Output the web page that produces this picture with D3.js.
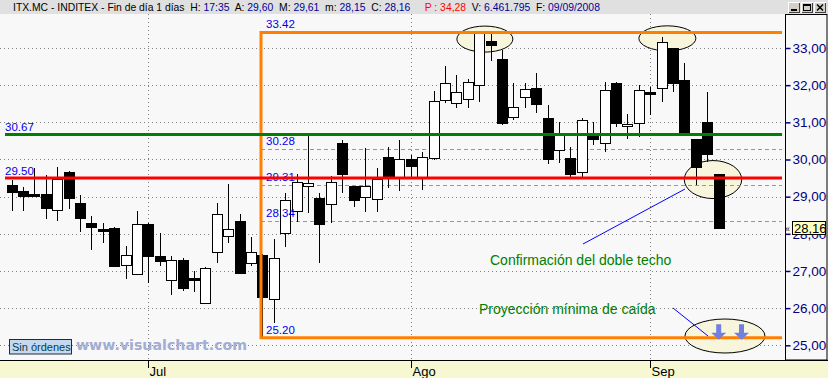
<!DOCTYPE html>
<html>
<head>
<meta charset="utf-8">
<script src="https://cdn.jsdelivr.net/npm/d3@7"></script>
<style>
body{margin:0;background:#f8f8f8;overflow:hidden}
svg{display:block;font-family:"Liberation Sans",Arial,sans-serif}
</style>
</head>
<body>
<script>
// Daily candles ITX.MC (13/06/2008 - 09/09/2008)
var dates = ["13/06","16/06","17/06","18/06","19/06","20/06","23/06","24/06","25/06","26/06","27/06","30/06",
             "01/07","02/07","03/07","04/07","07/07","08/07","09/07","10/07","11/07","14/07","15/07","16/07",
             "17/07","18/07","21/07","22/07","23/07","24/07","25/07","28/07","29/07","30/07","31/07",
             "01/08","04/08","05/08","06/08","07/08","08/08","11/08","12/08","13/08","14/08","15/08","18/08",
             "19/08","20/08","21/08","22/08","25/08","26/08","27/08","28/08","29/08",
             "01/09","02/09","03/09","04/09","05/09","08/09","09/09"];
var open  = [29.31,29.16,29.07,29.06,28.63,29.66,28.83,28.29,28.13,28.16,27.15,26.91,
             28.27,27.41,26.75,27.30,26.80,26.13,27.52,27.94,28.35,27.21,27.42,26.25,
             28.01,28.62,29.28,28.96,28.80,30.44,29.29,28.98,28.93,30.07,29.52,
             30.01,29.51,30.03,31.59,31.51,31.62,32.00,33.19,32.70,31.14,31.69,31.92,
             31.11,30.25,30.04,29.66,30.71,30.44,32.06,30.89,30.97,
             31.81,31.92,33.00,32.14,30.55,31.01,29.60];
var high  = [29.45,29.25,29.76,29.58,29.79,29.68,29.05,28.48,28.29,28.17,27.67,28.61,
             28.28,28.03,27.40,27.34,27.01,27.12,28.84,29.34,28.53,27.92,27.45,27.85,
             29.11,29.61,30.70,29.09,29.56,30.52,29.30,30.32,29.76,30.34,30.52,
             30.12,30.20,31.85,32.52,32.27,32.16,33.42,33.40,32.95,32.05,32.05,32.32,
             31.47,31.01,30.34,31.11,31.01,32.09,32.08,31.22,32.00,
             31.96,33.30,33.01,32.59,30.56,31.82,29.61];
var low   = [28.62,28.62,28.98,28.39,28.35,28.68,28.06,27.57,27.75,27.10,26.79,26.90,
             26.67,27.14,26.36,26.47,26.44,26.12,27.22,27.75,26.93,27.14,25.20,25.61,
             27.65,28.33,28.55,27.22,28.30,29.09,28.71,28.60,28.60,29.23,29.16,
             29.49,29.18,29.99,31.53,31.39,31.39,31.56,32.66,30.92,31.06,31.39,31.24,
             29.88,29.91,29.48,29.48,30.39,30.19,30.87,30.54,30.61,
             31.19,31.56,31.82,30.68,29.31,29.94,28.15];
var close = [29.13,29.03,29.04,28.70,29.47,28.97,28.43,28.17,28.10,27.14,27.43,28.26,
             27.41,27.28,27.29,26.55,26.78,27.08,28.53,28.12,26.94,27.50,26.31,27.34,
             28.91,29.39,29.36,28.27,29.39,29.62,28.90,29.29,29.47,29.49,30.01,
             29.83,30.06,31.57,32.06,31.81,32.09,33.40,33.09,30.99,31.40,31.89,31.50,
             30.02,30.65,29.60,31.06,30.56,31.86,30.99,30.95,31.86,
             31.80,33.15,32.05,30.68,29.79,30.16,28.16];

var priceTicks = [25, 26, 27, 28, 29, 30, 31, 32, 33];
var monthLabels = ["Jul", "Ago", "Sep"];
var monthStarts = ["01/07", "01/08", "01/09"];

// Drawn studies
var rangeHigh = 33.42, rangeLow = 25.20, rangeStart = "15/07";
var fibLevels = [30.28, 29.31, 28.34];
var resistance = 30.67, neckline = 29.50;

// Header info
var ticker = "ITX.MC - INDITEX - Fin de día 1 días";
var lastTime = "17:35", prevClose = "34,28", volume = "6.461.795", lastDate = "09/09/2008";

var W = 828, H = 378;
var plotRight = 783, axisX = 785.5, bottomY = 360, topY = 14;

var x = d3.scalePoint().domain(dates).range([11.5, 718.7]);
var step = x.step();
var y = d3.scaleLinear().domain([25, 33]).range([345.3, 48]);
var comma = function(v){ return d3.format(".2f")(v).replace(".", ","); };
var dot = d3.format(".2f");
var px = function(v){ return Math.round(v) + 0.5; };
var n = dates.length - 1;

var svg = d3.select("body").append("svg").attr("width", W).attr("height", H);

// backgrounds
svg.append("rect").attr("width", W).attr("height", H).attr("fill", "#f8f8f8");
svg.append("rect").attr("width", W).attr("height", topY).attr("fill", "#e0e0e0");
svg.append("rect").attr("y", bottomY).attr("width", W).attr("height", H - bottomY).attr("fill", "#f7f7d2");

// grid
svg.append("g").selectAll("line").data(priceTicks).join("line")
   .attr("x1", 0).attr("x2", plotRight)
   .attr("y1", function(d){ return px(y(d)); }).attr("y2", function(d){ return px(y(d)); })
   .attr("stroke", "#808080").attr("stroke-dasharray", "1,3");
svg.append("g").selectAll("line").data(monthStarts).join("line")
   .attr("x1", function(d){ return px(x(d)); }).attr("x2", function(d){ return px(x(d)); })
   .attr("y1", topY).attr("y2", bottomY)
   .attr("stroke", "#808080").attr("stroke-dasharray", "1,3");

// highlight ellipses
var last = dates[n];
var ellipses = [
  [(x("11/08") + x("12/08")) / 2, y(33.24), 28, 13],
  [(x("02/09") + x("03/09")) / 2, y(33.26), 28.5, 12.5],
  [(x("08/09") + x(last)) / 2, y(29.46), 28.7, 19],
  [x(last) + step * 0.55, y(25.25), 40, 17]
];
svg.append("g").selectAll("ellipse").data(ellipses).join("ellipse")
   .attr("cx", function(d){ return d[0]; }).attr("cy", function(d){ return d[1]; })
   .attr("rx", function(d){ return d[2]; }).attr("ry", function(d){ return d[3]; })
   .attr("fill", "#f7f5dc").attr("stroke", "#000").attr("stroke-width", 1);

// retracement levels
var xStart = px(x(rangeStart)) - 1.5;
svg.append("g").selectAll("line").data(fibLevels).join("line")
   .attr("x1", xStart).attr("x2", plotRight - 1)
   .attr("y1", function(d){ return px(y(d)); }).attr("y2", function(d){ return px(y(d)); })
   .attr("stroke", "#ff8000").attr("stroke-dasharray", "4,3");

// candles
var idx = d3.range(dates.length);
var cg = svg.append("g").attr("shape-rendering", "crispEdges");
cg.selectAll("line").data(idx).join("line")
  .attr("x1", function(i){ return px(x(dates[i])); }).attr("x2", function(i){ return px(x(dates[i])); })
  .attr("y1", function(i){ return Math.round(y(high[i])); }).attr("y2", function(i){ return Math.round(y(low[i])); })
  .attr("stroke", "#000");
cg.selectAll("rect").data(idx).join("rect")
  .attr("x", function(i){ return Math.round(x(dates[i])) - 5 + 0.5; })
  .attr("width", 10)
  .attr("y", function(i){ return Math.round(y(Math.max(open[i], close[i]))) + 0.5; })
  .attr("height", function(i){
     return Math.max(2, Math.round(y(Math.min(open[i], close[i]))) - Math.round(y(Math.max(open[i], close[i]))));
  })
  .attr("fill", function(i){ return close[i] > open[i] ? "#fff" : "#000"; })
  .attr("stroke", "#000");

// level labels
var labels = svg.append("g").attr("fill", "#0000ee").attr("font-size", "11.5px");
[resistance, neckline].forEach(function(v){
  labels.append("text").attr("x", 5).attr("y", y(v) - 3.5).text(dot(v));
});
fibLevels.concat([rangeHigh, rangeLow]).forEach(function(v){
  labels.append("text").attr("x", xStart + 5).attr("y", y(v) - 4).text(dot(v));
});

// range box, resistance and neckline
var lines = svg.append("g").attr("fill", "none");
lines.append("path")
  .attr("d", "M" + (plotRight - 1) + "," + y(rangeHigh) + "H" + xStart + "V" + y(rangeLow) + "H" + (plotRight - 1))
  .attr("stroke", "#ff8000").attr("stroke-width", 3);
lines.append("line").attr("x1", 5).attr("x2", plotRight - 1)
  .attr("y1", y(resistance)).attr("y2", y(resistance))
  .attr("stroke", "#008000").attr("stroke-width", 3);
lines.append("line").attr("x1", 5).attr("x2", plotRight - 1)
  .attr("y1", y(neckline)).attr("y2", y(neckline))
  .attr("stroke", "#ff0000").attr("stroke-width", 3);

// annotations
var ann = svg.append("g");
ann.append("line").attr("x1", 685).attr("y1", 189).attr("x2", 583).attr("y2", 244)
   .attr("stroke", "#0000ff");
ann.append("line").attr("x1", 673).attr("y1", 308).attr("x2", 708).attr("y2", 336)
   .attr("stroke", "#0000ff");
[x(last), x(last) + step * 2].forEach(function(cx){
  var t = y(rangeLow) - 13.5;
  ann.append("path")
     .attr("d", "M" + (cx - 2.5) + "," + t + "h5v8.5h5l-7.5,7l-7.5,-7h5z")
     .attr("fill", "#6f80e0");
});
ann.append("text").attr("x", 490).attr("y", 265).attr("fill", "#008000").attr("font-size", "14px")
   .text("Confirmación del doble techo");
ann.append("text").attr("x", 479).attr("y", 314).attr("fill", "#008000").attr("font-size", "14px")
   .text("Proyección mínima de caída");

// watermark and order box
svg.append("text").attr("x", 76).attr("y", 350)
   .attr("font-family", "DejaVu Sans").attr("font-weight", "bold").attr("font-size", "14.2px")
   .attr("fill", "#a3add3").text("www.visualchart.com");
svg.append("rect").attr("x", 9.5).attr("y", 339.5).attr("width", 62).attr("height", 14.5)
   .attr("fill", "#c6d8f0").attr("stroke", "#1c2c3c");
svg.append("text").attr("x", 12).attr("y", 351).attr("font-size", "11px").attr("fill", "#004048")
   .text("Sin órdenes");

// bottom time axis
svg.append("line").attr("x1", 0).attr("x2", W).attr("y1", bottomY + 0.5).attr("y2", bottomY + 0.5)
   .attr("stroke", "#000");
var xAxis = svg.append("g");
monthStarts.forEach(function(d, i){
  var mx = px(x(d));
  xAxis.append("line").attr("x1", mx).attr("x2", mx).attr("y1", bottomY).attr("y2", bottomY + 8)
       .attr("stroke", "#000");
  xAxis.append("text").attr("x", mx + 1).attr("y", 376).attr("font-size", "13px").attr("fill", "#000")
       .text(monthLabels[i]);
});

// right price axis
var lastY = Math.round(y(close[n]));
svg.append("rect").attr("x", axisX).attr("y", topY + 0.5).attr("width", W - axisX - 1).attr("height", bottomY - topY - 0.5)
   .attr("fill", "#f8f8f8").attr("stroke", "#000");
var yAxis = svg.append("g").attr("transform", "translate(" + axisX + ",0)")
   .call(d3.axisRight(y).tickValues(priceTicks).tickSize(5).tickPadding(2).tickFormat(comma));
yAxis.select(".domain").remove();
yAxis.selectAll("line").attr("stroke", "#000080").attr("stroke-width", 1.5);
yAxis.selectAll("text").attr("fill", "#000080").attr("font-size", "13.5px")
   .attr("font-family", "Liberation Sans, Arial, sans-serif");

// the last price tag hides most of the nearest tick label: keep only the part below it
var hidden = priceTicks.filter(function(d){ return Math.abs(y(d) - lastY) < 13; });
yAxis.selectAll(".tick").filter(function(d){ return hidden.indexOf(d) >= 0; }).select("text").remove();
svg.append("clipPath").attr("id", "underTag")
   .append("rect").attr("x", axisX).attr("y", lastY + 7).attr("width", 50).attr("height", 20);
hidden.forEach(function(d){
  svg.append("text").attr("x", axisX + 7).attr("y", y(d) + 5)
     .attr("clip-path", "url(#underTag)")
     .attr("fill", "#000080").attr("font-size", "13.5px").text(comma(d));
});

// last price marker
var lp = svg.append("g").attr("transform", "translate(0," + lastY + ")");
lp.append("rect").attr("x", 792.5).attr("y", -6.5).attr("width", 33).attr("height", 13)
  .attr("fill", "#ffffc0").attr("stroke", "#000");
lp.append("text").attr("x", 794).attr("y", 5).attr("font-size", "13px").attr("fill", "#000")
  .text(comma(close[n]));
lp.append("text").attr("x", 785).attr("y", 3.5).attr("font-size", "9px").attr("fill", "#000").text("«");

// header line, fitted between the left margin and the date end
var head = [
  [ticker + "  ", "#000"],
  ["H: ", "#000"], [lastTime + "  ", "#000099"],
  ["A: ", "#000"], [comma(open[n]) + "  ", "#000099"],
  ["M: ", "#000"], [comma(high[n]) + "  ", "#000099"],
  ["m: ", "#000"], [comma(low[n]) + "  ", "#000099"],
  ["C: ", "#000"], [comma(close[n]) + "     ", "#000099"],
  ["P : " + prevClose + "  ", "#ff0000"],
  ["V: ", "#000"], [volume + "  ", "#000099"],
  ["F: ", "#000"], [lastDate, "#000099"]
];
var hd = svg.append("text").attr("x", 13).attr("y", 11).attr("font-size", "10.5px")
   .style("white-space", "pre");
head.forEach(function(h){ hd.append("tspan").attr("fill", h[1]).text(h[0]); });
var hw = hd.node().getComputedTextLength();
hd.attr("font-size", (10.5 * 587 / hw).toFixed(2) + "px");

// window buttons
[788, 801, 814].forEach(function(bx, i){
  var b = svg.append("g").attr("transform", "translate(" + bx + ",2)").attr("shape-rendering", "crispEdges");
  b.append("rect").attr("width", 12).attr("height", 11).attr("fill", "#d4d0c8");
  b.append("path").attr("d", "M0.5,10.5V0.5H11.5").attr("stroke", "#fff").attr("fill", "none");
  b.append("path").attr("d", "M0.5,10.5H11.5V0.5").attr("stroke", "#404040").attr("fill", "none");
  if (i == 0) b.append("rect").attr("x", 3).attr("y", 7).attr("width", 6).attr("height", 2).attr("fill", "#000");
  if (i == 1) {
    b.append("rect").attr("x", 2.5).attr("y", 2.5).attr("width", 7).attr("height", 6).attr("fill", "none").attr("stroke", "#000");
    b.append("rect").attr("x", 2.5).attr("y", 2.5).attr("width", 7).attr("height", 1.5).attr("fill", "#000");
  }
  if (i == 2) b.append("path").attr("d", "M3,2.5L9,8.5M9,2.5L3,8.5").attr("stroke", "#000").attr("stroke-width", 1.5)
     .attr("shape-rendering", "auto");
});
</script>
</body>
</html>
